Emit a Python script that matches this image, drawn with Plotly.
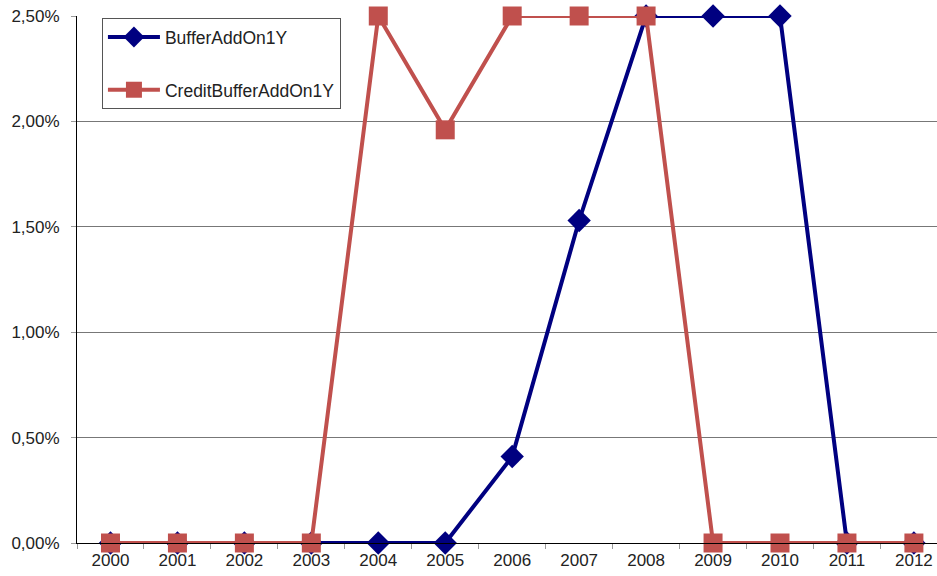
import plotly.graph_objects as go

years = ["2000", "2001", "2002", "2003", "2004", "2005", "2006",
         "2007", "2008", "2009", "2010", "2011", "2012"]
buffer_add_on = [0, 0, 0, 0, 0, 0, 0.41, 1.53, 2.5, 2.5, 2.5, 0, 0]
credit_buffer_add_on = [0, 0, 0, 0, 2.5, 1.96, 2.5, 2.5, 2.5, 0, 0, 0, 0]
y_ticks = [0, 0.5, 1.0, 1.5, 2.0, 2.5]
y_tick_labels = ["0,00%", "0,50%", "1,00%", "1,50%", "2,00%", "2,50%"]

navy = "#000080"
brick = "#C0504D"

fig = go.Figure()
fig.add_trace(go.Scatter(
    x=years, y=buffer_add_on, name="BufferAddOn1Y", mode="lines+markers",
    line=dict(color=navy, width=4),
    marker=dict(symbol="diamond", size=18, color=navy),
    cliponaxis=False, legendgroup="a",
))
fig.add_trace(go.Scatter(
    x=years, y=credit_buffer_add_on, name="CreditBufferAddOn1Y", mode="lines+markers",
    line=dict(color=brick, width=4),
    marker=dict(symbol="square", size=19, color=brick),
    cliponaxis=False, legendgroup="b",
))

fig.update_layout(
    width=937, height=576,
    margin=dict(l=77, r=0, t=16, b=33),
    paper_bgcolor="white", plot_bgcolor="white",
    font=dict(family="Liberation Sans, Arial, sans-serif", size=17, color="#222222"),
    showlegend=True,
    legend=dict(
        x=0.029, y=0.996, xanchor="left", yanchor="top",
        bordercolor="#555555", borderwidth=1, bgcolor="white",
        font=dict(size=17.5, color="#222222"),
        traceorder="grouped", tracegroupgap=27,
        itemwidth=52,
    ),
    xaxis=dict(
        type="category", range=[-0.5, 12.345],
        showline=True, linecolor="black", linewidth=1,
        ticks="outside", tickson="boundaries", ticklen=5, tickcolor="#999999",
        showgrid=False, tickfont=dict(size=17),
        ticklabelstandoff=2,
    ),
    yaxis=dict(
        range=[0, 2.5], tickvals=y_ticks, ticktext=y_tick_labels,
        showline=True, linecolor="black", linewidth=1,
        ticks="outside", ticklen=5, tickcolor="#999999",
        showgrid=True, gridcolor="#777777", gridwidth=1,
        zeroline=False, tickfont=dict(size=17),
        ticklabelstandoff=8,
    ),
)

fig.write_html("out.html")
